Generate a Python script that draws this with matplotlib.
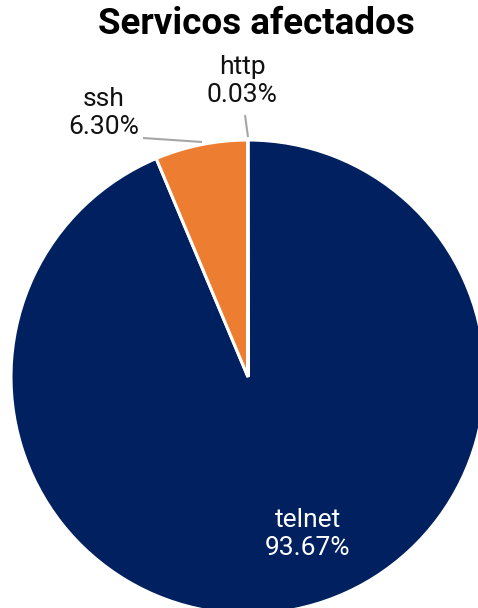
import matplotlib
matplotlib.use("Agg")
import matplotlib.pyplot as plt

plt.rcParams['font.family'] = ['Roboto', 'DejaVu Sans']

services = ["telnet", "ssh", "http"]
shares = [93.67, 6.30, 0.03]
colors = ["#00205F", "#ED7D31", "#A5A5A5"]
title = "Servicos afectados"

W, H = 478, 608
fig = plt.figure(figsize=(W / 100, H / 100), dpi=100)
ax = fig.add_axes([0, 0, 1, 1])

# pie centre and radius in pixels (origin top-left)
cx, cy, R = 248, 377, 237

wedges, _ = ax.pie(
    shares, colors=colors, startangle=90, counterclock=False,
    wedgeprops=dict(edgecolor="white", linewidth=2.2),
)

ax.set_xlim(-cx / R, (W - cx) / R)
ax.set_ylim(-(H - cy) / R, cy / R)
ax.set_aspect("auto")
ax.axis("off")


def px(x, y):
    return (x - cx) / R, (cy - y) / R


def pct(v):
    return f"{v:.2f}%"


# outside labels with leader lines
ax.plot(*zip(px(143, 138), px(202, 142)), color="#A6A6A6", lw=1.5,
        solid_capstyle="butt")
ax.plot(*zip(px(245, 115), px(248, 137)), color="#A6A6A6", lw=1.5,
        solid_capstyle="butt")

ax.text(*px(104, 113), f"{services[1]}\n{pct(shares[1])}", ha="center",
        va="center", fontsize=19, color="#111111", linespacing=1.2)
ax.text(*px(242, 81), f"{services[2]}\n{pct(shares[2])}", ha="center",
        va="center", fontsize=19, color="#111111", linespacing=1.2)
ax.text(*px(308, 534), f"{services[0]}\n{pct(shares[0])}", ha="center",
        va="center", fontsize=19, color="white", linespacing=1.2)

fig.text(256 / W, 1 - 24 / H, title, ha="center", va="center",
         fontsize=26.5, fontweight="bold", color="black")

fig.savefig("out.png", dpi=100)
